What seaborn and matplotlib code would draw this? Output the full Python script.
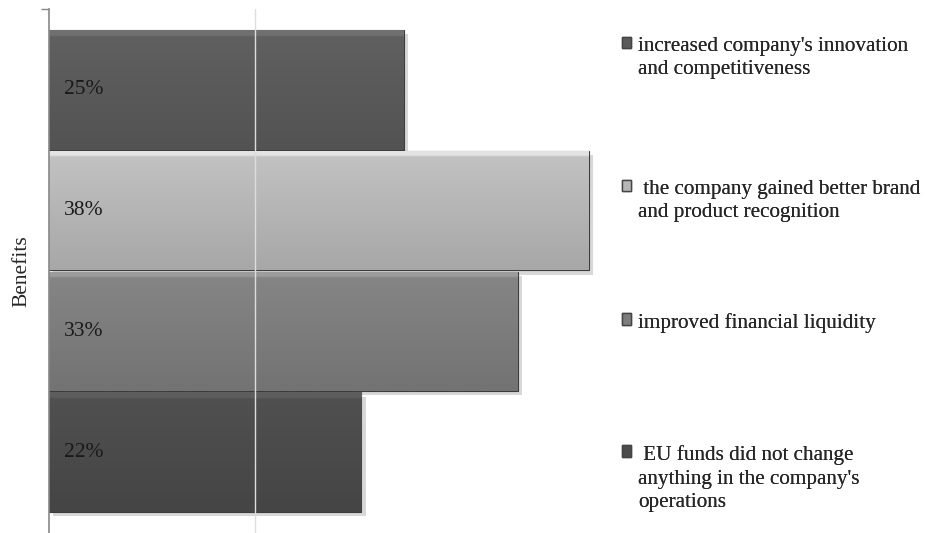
import numpy as np
import pandas as pd
import matplotlib
matplotlib.use('Agg')
import matplotlib.pyplot as plt
import matplotlib.patheffects as pe
from matplotlib.patches import Patch
from matplotlib.colors import to_rgb
import seaborn as sns

# data
categories = ["increased company's innovation\nand competitiveness",
              " the company gained better brand\nand product recognition",
              "improved financial liquidity",
              " EU funds did not change\nanything in the company's\noperations"]
values = [25, 38, 33, 22]
bar_colors = ['#5a5a5a', '#b6b6b6', '#7d7d7d', '#4b4b4b']
axis_label = 'Benefits'

sns.set_theme(style='white')
plt.rcParams['font.family'] = ['Liberation Serif', 'DejaVu Serif']

df = pd.DataFrame({'cat': categories, 'val': values})

fig = plt.figure(figsize=(9.25, 5.33), dpi=100)
ax = fig.add_axes([49 / 925, 0, 568 / 925, 524 / 533])

sns.barplot(data=df, y='cat', x='val', hue='cat', palette=bar_colors,
            orient='h', width=0.99, dodge=False, legend=False, ax=ax,
            edgecolor='#3c3c3c', linewidth=0.8)

# petit effet 3D : degrade vertical + ombre
for p, col in zip(ax.patches, bar_colors):
    p.set_path_effects([pe.SimplePatchShadow(offset=(3, -3), shadow_rgbFace='#aaaaaa', alpha=0.45),
                        pe.Normal()])
    x0, y0 = p.get_x(), p.get_y()
    w, h = p.get_width(), p.get_height()
    c = np.array(to_rgb(col))
    t = np.linspace(0, 1, 60)[:, None]
    shade = 1.07 - 0.15 * t
    shade[:3] = 1.25
    grad = np.clip(c[None, :] * shade, 0, 1)[:, None, :]
    im = ax.imshow(grad, extent=(x0, x0 + w, y0 + h, y0), aspect='auto',
                   interpolation='bilinear', zorder=p.get_zorder() + 0.1)
    im.set_clip_path(p)

# valeurs dans les barres
for i, v in enumerate(values):
    ax.text(1.05, i, f'{v}%', va='center', ha='left', fontsize=15.5, color='#1a1a1a', zorder=5)

ax.axvline(14.5, color='#dddddd', lw=1, zorder=4)
ax.set_xlim(0, 40)
ax.set_ylim(3.67, -0.67)
ax.set_xticks([])
ax.set_yticks([-0.67])
ax.set_yticklabels([''])
ax.tick_params(axis='y', left=True, length=6, width=1, color='#888888')
ax.set_xlabel('')
ax.set_ylabel(axis_label, fontsize=15.5, labelpad=0)
ax.yaxis.set_label_coords(-0.0317, 0.5)

for s in ['top', 'right', 'bottom']:
    ax.spines[s].set_visible(False)
ax.spines['left'].set_color('#888888')
ax.spines['left'].set_linewidth(1.2)

# legende a droite, une entree par barre
legend_tops = [0.951, 0.682, 0.432, 0.184]
for lab, col, top in zip(categories, bar_colors, legend_tops):
    leg = fig.legend(handles=[Patch(facecolor=col, edgecolor='#444444', label=lab)],
                     loc='upper left', bbox_to_anchor=(0.661, top), frameon=False,
                     fontsize=15.2, handlelength=0.45, handleheight=0.45,
                     handletextpad=0.3, borderpad=0)
    for txt in leg.get_texts():
        txt.set_linespacing(1.3)
    for col_box in leg._legend_handle_box.get_children():
        for item in col_box.get_children():
            item.align = 'top'
    fig.add_artist(leg)

fig.savefig('out.png', dpi=100)
